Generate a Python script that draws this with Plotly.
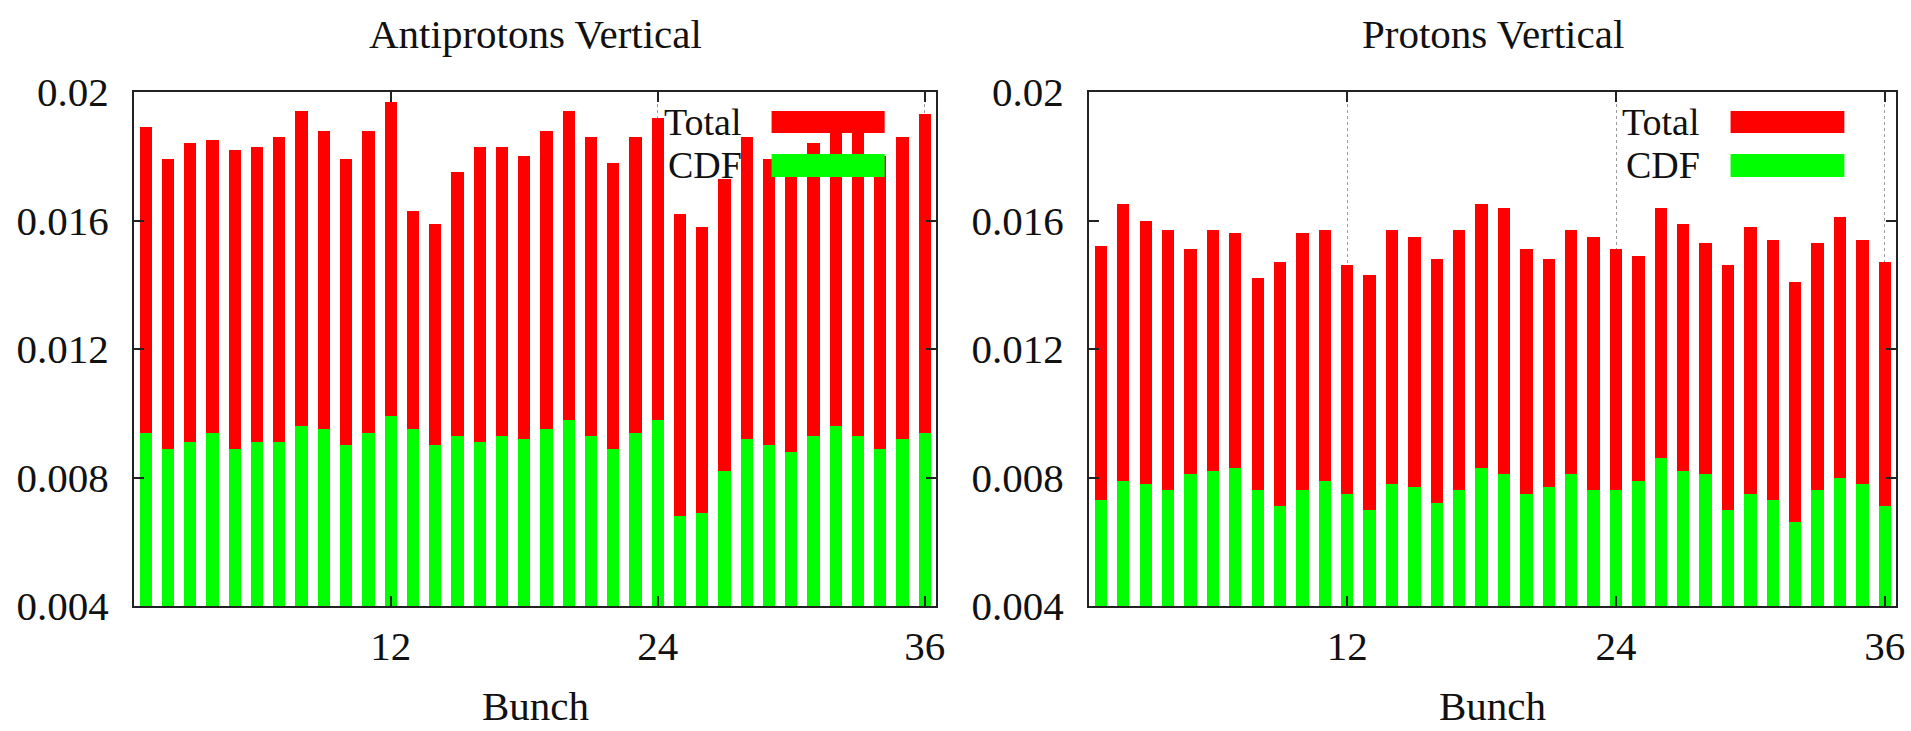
import plotly.graph_objects as go

# Bunch numbers 1..36
bunches = list(range(1, 37))

# Antiprotons, vertical plane
anti_total = [0.0189, 0.0179, 0.0184, 0.0185, 0.0182, 0.0183, 0.0186, 0.0194, 0.0188,
              0.0179, 0.0188, 0.0197, 0.0163, 0.0159, 0.0175, 0.0183, 0.0183, 0.0180,
              0.0188, 0.0194, 0.0186, 0.0178, 0.0186, 0.0192, 0.0162, 0.0158, 0.0173,
              0.0186, 0.0179, 0.0178, 0.0184, 0.0190, 0.0189, 0.0180, 0.0186, 0.0193]
anti_cdf = [0.0094, 0.0089, 0.0091, 0.0094, 0.0089, 0.0091, 0.0091, 0.0096, 0.0095,
            0.0090, 0.0094, 0.0099, 0.0095, 0.0090, 0.0093, 0.0091, 0.0093, 0.0092,
            0.0095, 0.0098, 0.0093, 0.0089, 0.0094, 0.0098, 0.0068, 0.0069, 0.0082,
            0.0092, 0.0090, 0.0088, 0.0093, 0.0096, 0.0093, 0.0089, 0.0092, 0.0094]

# Protons, vertical plane
prot_total = [0.0152, 0.0165, 0.0160, 0.0157, 0.0151, 0.0157, 0.0156, 0.0142, 0.0147,
              0.0156, 0.0157, 0.0146, 0.0143, 0.0157, 0.0155, 0.0148, 0.0157, 0.0165,
              0.0164, 0.0151, 0.0148, 0.0157, 0.0155, 0.0151, 0.0149, 0.0164, 0.0159,
              0.0153, 0.0146, 0.0158, 0.0154, 0.0141, 0.0153, 0.0161, 0.0154, 0.0147]
prot_cdf = [0.0073, 0.0079, 0.0078, 0.0076, 0.0081, 0.0082, 0.0083, 0.0076, 0.0071,
            0.0076, 0.0079, 0.0075, 0.0070, 0.0078, 0.0077, 0.0072, 0.0076, 0.0083,
            0.0081, 0.0075, 0.0077, 0.0081, 0.0076, 0.0076, 0.0079, 0.0086, 0.0082,
            0.0081, 0.0070, 0.0075, 0.0073, 0.0066, 0.0076, 0.0080, 0.0078, 0.0071]

panel_titles = ["Antiprotons Vertical", "Protons Vertical"]
series_names = ["Total", "CDF"]
series_colors = ["#ff0000", "#00ff00"]
x_tickvals = [12, 24, 36]
y_tickvals = [0.004, 0.008, 0.012, 0.016, 0.02]
y_ticktext = ["0.004", "0.008", "0.012", "0.016", "0.02"]
x_title = "Bunch"

W, H = 1911, 731
FONT = "Liberation Serif"
FS = 41
KEY_FS = 38

fig = go.Figure()

panels = [
    ("x", "y", anti_total, anti_cdf),
    ("x2", "y2", prot_total, prot_cdf),
]
for xa, ya, tot, cdf in panels:
    for vals, name, col in zip((tot, cdf), series_names, series_colors):
        fig.add_trace(go.Bar(x=bunches, y=vals, name=name, marker_color=col,
                             marker_line_width=0, width=0.55, xaxis=xa, yaxis=ya,
                             showlegend=False))

# pixel layout of the two frames
px_left = [(134, 936), (1089, 1896)]
py_top, py_bot = 92, 606
ydom = [1 - py_bot / H, 1 - py_top / H]

axis_common = dict(
    showline=True, linewidth=2, linecolor="#222", mirror="allticks",
    ticks="inside", ticklen=10, tickwidth=1.5, tickcolor="#222", automargin=False,
    tickfont=dict(family=FONT, size=FS, color="#111"), zeroline=False,
)

for i, (l, r) in enumerate(px_left):
    sx = "" if i == 0 else str(i + 1)
    fig.layout["xaxis" + sx] = dict(
        domain=[l / W, r / W], range=[0.47, 36.5], anchor="y" + sx,
        tickvals=x_tickvals, showgrid=True, gridcolor="#9a9a9a", griddash="dot",
        gridwidth=1, ticklabelstandoff=3, **axis_common)
    fig.layout["yaxis" + sx] = dict(
        domain=ydom, range=[0.004, 0.02], anchor="x" + sx,
        tickvals=y_tickvals, ticktext=y_ticktext, showgrid=False,
        ticklabelstandoff=15, **axis_common)

annotations = []
shapes = []
for i, (l, r) in enumerate(px_left):
    cx = (l + r) / 2 / W
    annotations.append(dict(text=panel_titles[i], x=cx, y=1 - 34 / H, xref="paper",
                            yref="paper", showarrow=False, xanchor="center",
                            yanchor="middle", font=dict(family=FONT, size=FS, color="#111")))
    annotations.append(dict(text=x_title, x=cx, y=0, xref="paper",
                            yref="paper", showarrow=False, xanchor="center",
                            yanchor="bottom", font=dict(family=FONT, size=FS, color="#111")))
    # key: label followed by a wide colour sample
    sx = "" if i == 0 else str(i + 1)
    key_rows = [(0.9416, 0.920, 0.963), (0.858, 0.8346, 0.8794)]
    for (ty, y0, y1), name, col in zip(key_rows, series_names, series_colors):
        annotations.append(dict(text=name, x=0.76, y=ty, xref="x" + sx + " domain",
                                yref="y" + sx + " domain", showarrow=False,
                                xanchor="right", yanchor="middle",
                                font=dict(family=FONT, size=KEY_FS, color="#111")))
        shapes.append(dict(type="rect", xref="x" + sx + " domain",
                           yref="y" + sx + " domain", x0=0.795, x1=0.936, y0=y0, y1=y1,
                           fillcolor=col, line_width=0, layer="above"))

fig.update_layout(
    width=W, height=H, margin=dict(l=0, r=0, t=0, b=0),
    paper_bgcolor="white", plot_bgcolor="white",
    barmode="overlay", bargap=0,
    annotations=annotations, shapes=shapes,
)

fig.write_html("out.html")
